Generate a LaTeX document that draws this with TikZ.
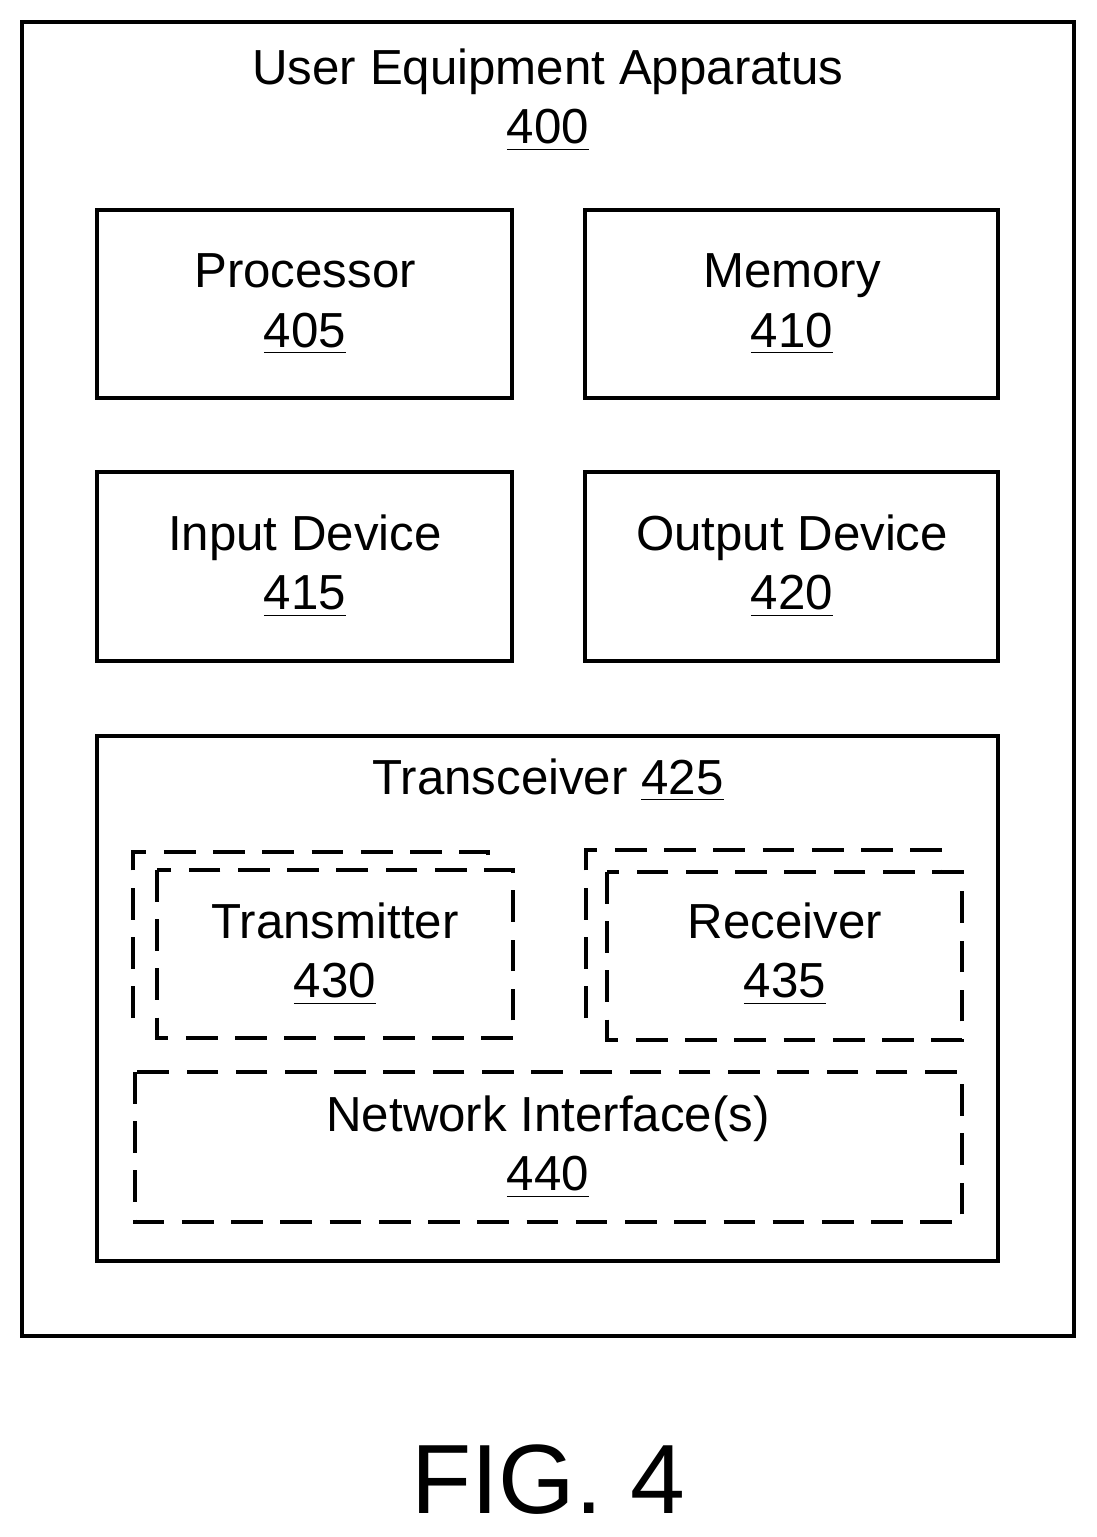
\documentclass[tikz,border=0pt]{standalone}
\usepackage{fontspec}
\setmainfont{Liberation Sans}
\begin{document}
\begin{tikzpicture}[x=0.01cm,y=-0.01cm,line width=1.05pt,
    box/.style={draw,rectangle},
    dbox/.style={draw,dash pattern=on 9pt off 5pt},
    lbl/.style={font=\fontsize{14}{17}\selectfont,align=center}]
    \useasboundingbox (0,0) rectangle (1096,1537);
    % outer apparatus
    \draw (22,22) rectangle (1074,1336);
    \node[lbl] (ue) at (548,100) {User Equipment Apparatus\\\underline{400}};

    % components
    \draw (97,210) rectangle (512,398);
    \node[lbl] (proc) at (305,304) {Processor\\\underline{405}};
    \draw (585,210) rectangle (998,398);
    \node[lbl] (mem) at (792,304) {Memory\\\underline{410}};
    \draw (97,472) rectangle (512,661);
    \node[lbl] (in) at (305,566) {Input Device\\\underline{415}};
    \draw (585,472) rectangle (998,661);
    \node[lbl] (out) at (792,566) {Output Device\\\underline{420}};

    % transceiver
    \draw (97,736) rectangle (998,1261);
    \node[lbl] (trx) at (548,780) {Transceiver \underline{425}};

    % transmitter
    \draw[dbox] (133,1018) -- (133,852) -- (488,852) -- (488,870);
    \draw[dbox] (157,870) rectangle (513,1038);
    \node[lbl] (tx) at (335,954) {Transmitter\\\underline{430}};

    % receiver
    \draw[dbox] (586,1018) -- (586,850) -- (940,850) -- (940,872);
    \draw[dbox] (607,872) rectangle (962,1040);
    \node[lbl] (rx) at (785,954) {Receiver\\\underline{435}};

    % network interfaces
    \draw[dbox] (135,1072) rectangle (962,1222);
    \node[lbl] (ni) at (548,1147) {Network Interface(s)\\\underline{440}};

    \node[font=\fontsize{28}{34}\selectfont] (fig) at (548,1480) {FIG. 4};
\end{tikzpicture}
\end{document}
